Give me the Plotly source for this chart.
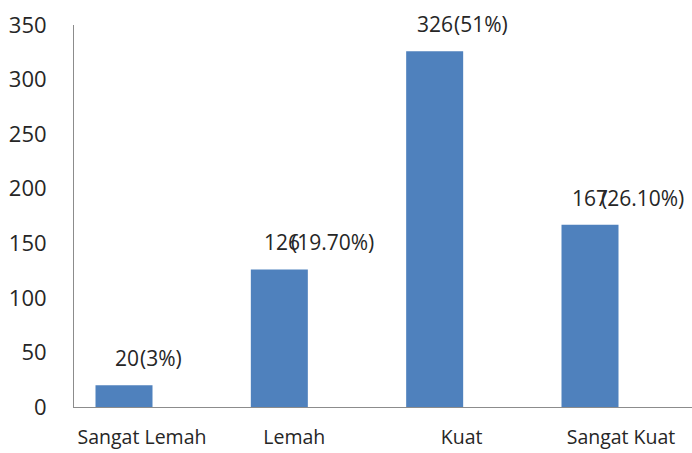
import plotly.graph_objects as go

categories = ["Sangat Lemah", "Lemah", "Kuat", "Sangat Kuat"]
values = [20, 126, 326, 167]
percent_labels = ["(3%)", "(19.70%)", "(51%)", "(26.10%)"]
y_ticks = [0, 50, 100, 150, 200, 250, 300, 350]

# style / placement (pixel offsets relative to bar centre)
px_per_unit = 155.33
value_dx = [-11, -17.5, -20, -20]
pct_dx = [14, 9.5, 17, 9]
label_off = [18, 15, 27, 31]  # category-label centre offsets in px

xs = list(range(len(categories)))
bar_color = "#4F81BD"
axis_color = "#8C8C8C"
txt = "#262626"
font_fam = "Open Sans"

fig = go.Figure()
fig.add_trace(go.Bar(
    x=xs, y=values, width=57 / px_per_unit,
    marker=dict(color=bar_color, line=dict(width=0)),
    hoverinfo="skip", showlegend=False,
))

anns = []
for i, (v, p) in enumerate(zip(values, percent_labels)):
    anns.append(dict(x=xs[i], y=v, xref="x", yref="y", text=str(v),
                     showarrow=False, xanchor="left", yanchor="middle",
                     xshift=value_dx[i], yshift=27,
                     font=dict(family=font_fam, size=21, color=txt)))
    anns.append(dict(x=xs[i], y=v, xref="x", yref="y", text=p,
                     showarrow=False, xanchor="left", yanchor="middle",
                     xshift=pct_dx[i], yshift=27,
                     font=dict(family=font_fam, size=21, color=txt)))

tickpos = [xs[i] + label_off[i] / px_per_unit for i in range(len(xs))]

fig.update_layout(
    width=692, height=453,
    margin=dict(l=74, r=0, t=25, b=46),
    paper_bgcolor="white", plot_bgcolor="white",
    annotations=anns,
    font=dict(family=font_fam, color=txt),
    xaxis=dict(
        range=[-50 / px_per_unit, 3 + 102 / px_per_unit],
        tickvals=tickpos, ticktext=categories,
        showgrid=False, zeroline=False,
        showline=True, linecolor=axis_color, linewidth=1,
        ticks="", ticklabelstandoff=13,
        tickfont=dict(family=font_fam, size=19.5, color=txt),
        fixedrange=True,
    ),
    yaxis=dict(
        range=[0, 350], tickvals=y_ticks,
        showgrid=False, zeroline=False,
        showline=True, linecolor=axis_color, linewidth=1,
        ticks="", ticklabelstandoff=22,
        tickfont=dict(family=font_fam, size=22, color=txt),
        fixedrange=True,
    ),
)

fig.write_html("out.html", config={"displayModeBar": False})
